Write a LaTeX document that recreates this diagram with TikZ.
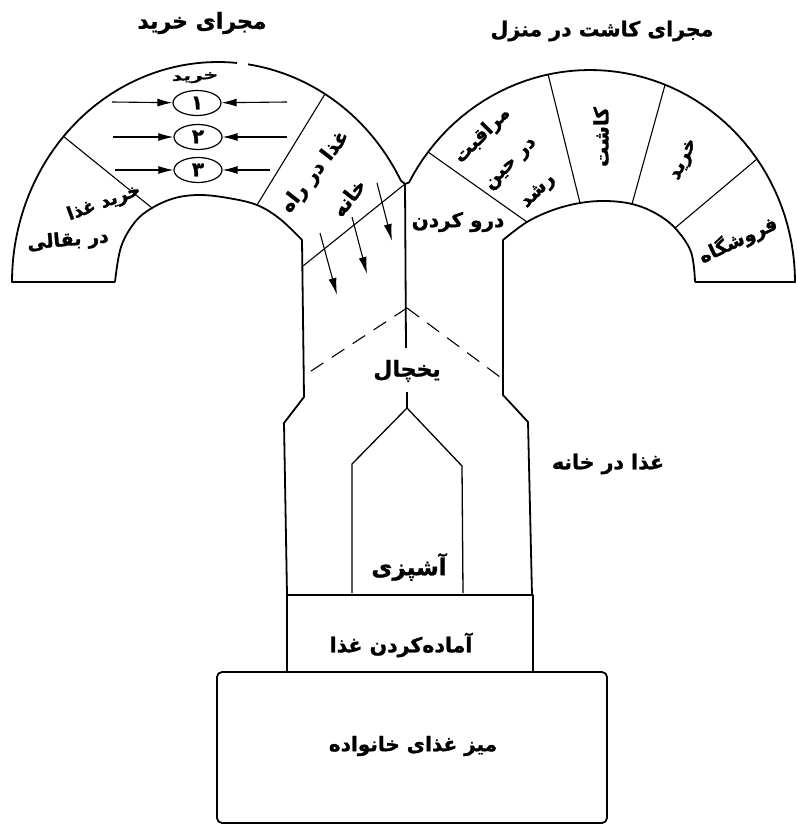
\documentclass[tikz,border=0pt]{standalone}
\usepackage{fontspec}
\usetikzlibrary{arrows.meta,shapes.geometric}
\TeXXeTstate=1
\newfontfamily\fafont[Script=Arabic, BoldFeatures={FakeBold=1.2}]{DejaVu Sans}
\newcommand\fa[1]{{\fafont\bfseries\beginR #1\endR}}

\begin{document}
\begin{tikzpicture}[x=1pt,y=-1pt,
  outline/.style={line width=1.8pt, line join=round},
  divider/.style={line width=1.1pt},
  thinline/.style={line width=1.3pt},
  flow/.style={line width=1.1pt, -{Latex[length=15pt,width=8pt]}},
  drop/.style={line width=1.1pt, -{Latex[length=17pt,width=8pt]}},
  lbl/.style={font=\fontsize{#1}{#1}\selectfont, inner sep=1pt},
  lbl/.default=20,
  stack/.style 2 args={align=center, inner sep=1pt, font=\fontsize{#1}{#2}\selectfont},
  ring/.style={draw, line width=1.2pt, ellipse, minimum width=48pt, minimum height=25pt, inner sep=0pt, font=\fontsize{20}{20}\selectfont}]
\useasboundingbox (0,0) rectangle (796,829);

\coordinate (V) at (405,184);

% ---- shopping arch (left) ----
\draw[outline] (115,282) -- (12,282)
  -- plot[domain=180:84.7, samples=50] ({218+206*cos(\x)},{282-220*sin(\x)});
\draw[outline] plot[domain=81.6:27.5, samples=40] ({218+206*cos(\x)},{282-220*sin(\x)}) -- (V);
\draw[outline] plot[smooth, tension=0.6] coordinates {(115,282) (121,247) (135,222) (152,208) (175,198) (200,195) (228,198) (257,205) (280,219) (302,240)}
  -- (304,397) -- (284,423) -- (287,595);
\draw[divider] (63,136) -- (152,208);
\draw[divider] (325,94) -- (257,205);
\draw[divider] (V) -- (303,266);

% ---- home-growing arch (right) ----
\draw[outline] (V) -- plot[domain=152:0, samples=60] ({590+205*cos(\x)},{282-212*sin(\x)}) -- (695,282);
\draw[outline] plot[smooth, tension=0.6] coordinates {(695,282) (691,252) (675,228) (655,213) (632,204) (606,201) (580,203) (553,210) (527,222) (503,240)}
  -- (503,395) -- (528,422) -- (532,595);
\draw[divider] (428,152) -- (527,222);
\draw[divider] (548,74) -- (580,203);
\draw[divider] (665,85) -- (632,204);
\draw[divider] (757,159) -- (675,228);

% ---- centre: fridge, cooking ----
\draw[outline] (V) -- (406,348);
\node[lbl=22] (fridge) at (407,371) {\fa{یخچال}};
\draw[thinline] (407,392) -- (407,408);
\coordinate (D) at (407,308);
\draw[divider, dash pattern=on 15pt off 10pt] (D) -- (305,375);
\draw[divider, dash pattern=on 15pt off 10pt] (D) -- (500,377);
\draw[thinline] (352,593) -- (352,464) -- (407,408) -- (462,466) -- (463,593);
\node[lbl=23] (cook) at (409,567) {\fa{آشپزی}};

% ---- preparation and family table ----
\draw[outline] (287,595) rectangle (533,672);
\node[lbl=20.5] (prep) at (401,645) {\fa{آماده‌کردن غذا}};
\draw[outline, rounded corners=5pt] (217,672) rectangle (607,823);
\node[lbl=20] (table) at (413,746) {\fa{میز غذای خانواده}};

% ---- titles ----
\node[lbl=22] (tshop) at (202,23) {\fa{مجرای خرید}};
\node[lbl=20.5] (tgrow) at (602,31) {\fa{مجرای کاشت در منزل}};

% ---- shopping section ----
\node[lbl=15, rotate=3] (buy) at (195,78) {\scalebox{1.35}[0.85]{\fa{خرید}}};
\node[ring] (c1) at (197,103) {\fa{۱}};
\node[ring] (c2) at (198,137) {\fa{۲}};
\node[ring] (c3) at (198,170) {\fa{۳}};
\coordinate (a1l) at (112,102); \coordinate (a1r) at (287,102);
\coordinate (a2l) at (113,137); \coordinate (a2r) at (287,137);
\coordinate (a3l) at (115,170); \coordinate (a3r) at (270,170);
\draw[flow] (a1l) -- (c1); \draw[flow] (a1r) -- (c1);
\draw[flow] (a2l) -- (c2); \draw[flow] (a2r) -- (c2);
\draw[flow] (a3l) -- (c3); \draw[flow] (a3r) -- (c3);

\node[lbl=18, rotate=20] (grocA) at (104,203) {\fa{خرید غذا}};
\node[lbl=19, rotate=5] (grocB) at (68,241) {\fa{در بقالی}};
\node[stack={20}{44}, rotate=52] (way) at (331,184) {\fa{غذا در راه}\\\fa{خانه}};

% food carried home into the house
\coordinate (d1s) at (377,183); \coordinate (d1e) at (392,241);
\coordinate (d2s) at (352,217); \coordinate (d2e) at (367,274);
\coordinate (d3s) at (320,233); \coordinate (d3e) at (337,295);
\draw[drop] (d1s) -- (d1e);
\draw[drop] (d2s) -- (d2e);
\draw[drop] (d3s) -- (d3e);

% ---- growing section ----
\node[lbl=20] (harvest) at (458,222) {\fa{درو کردن}};
\node[stack={19}{39}, rotate=45] (care) at (510,163) {\fa{مراقبت}\\\fa{در حین}\\\fa{رشد}};
\node[lbl=20, rotate=90] (plant) at (601,137) {\fa{کاشت}};
\node[lbl=19, rotate=65] (buy2) at (685,160) {\fa{خرید}};
\node[lbl=19, rotate=25] (store) at (738,240) {\fa{فروشگاه}};

\node[lbl=20.5] (home) at (608,464) {\fa{غذا در خانه}};
\end{tikzpicture}
\end{document}
